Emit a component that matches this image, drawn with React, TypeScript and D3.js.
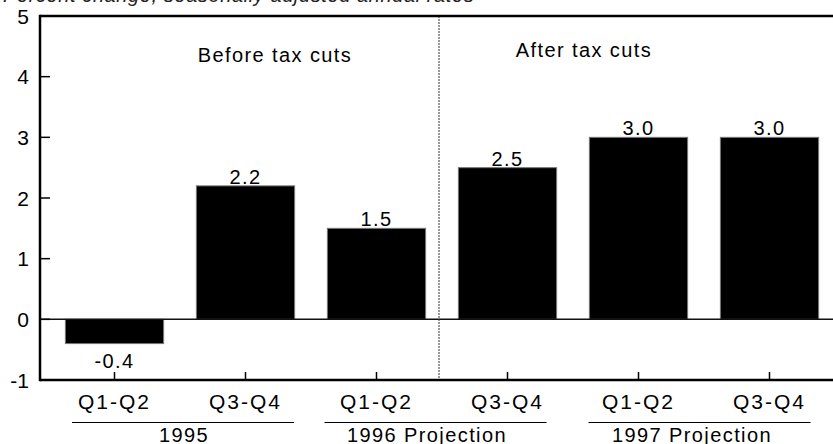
import React from "react";
import * as d3 from "d3";

const quarters = ["Q1-Q2", "Q3-Q4", "Q1-Q2", "Q3-Q4", "Q1-Q2", "Q3-Q4"];
const years = ["1995", "1995", "1996 Projection", "1996 Projection", "1997 Projection", "1997 Projection"];
const values = [-0.4, 2.2, 1.5, 2.5, 3.0, 3.0];
const valueLabels = ["-0.4", "2.2", "1.5", "2.5", "3.0", "3.0"];
const yTicks = [-1, 0, 1, 2, 3, 4, 5];
const groups = ["1995", "1996 Projection", "1997 Projection"];
const title = "Percent change, seasonally adjusted annual rates";
const periodLabels = ["Before tax cuts", "After tax cuts"];

// layout nudges (pixels) for the group captions
const groupLineShift = [3, -6.5, -4.5];
const groupTextShift = [4, -15, -12];

const W = 833;
const H = 444;
const FONT = "'Liberation Sans', Arial, Helvetica, sans-serif";

export default function App() {
  const keys = quarters.map((q, i) => years[i] + " " + q);
  const x = d3.scaleBand<string>().domain(keys).range([49, 835]).paddingInner(0.25).paddingOuter(0.125);
  const y = d3.scaleLinear().domain([-1, 5]).range([380, 16]);
  const bw = x.bandwidth();
  const left = 40;
  const right = 840;
  const divX = (x(keys[2])! + bw + x(keys[3])!) / 2 - 3;

  return (
    <svg width={W} height={H} style={{ position: "fixed", left: 0, top: 0, background: "#fff" }} fontFamily={FONT}>
      <rect x={0} y={0} width={W} height={H} fill="#fff" />
      {/* cut-off title */}
      <text x={3} y={2} fontSize={20} fontStyle="italic" letterSpacing={0.6} fill="#222">{title}</text>

      {/* bars */}
      {values.map((v, i) => (
        <rect key={i} x={x(keys[i])} y={y(Math.max(0, v))} width={bw} height={Math.abs(y(v) - y(0))} fill="#000" stroke="#777" strokeWidth={1} />
      ))}

      {/* zero line */}
      <line x1={left} x2={right} y1={y(0)} y2={y(0)} stroke="#111" strokeWidth={1.5} />

      {/* divider */}
      <line x1={divX} x2={divX} y1={y(5)} y2={y(-1)} stroke="#333" strokeWidth={1} strokeDasharray="2,1" />

      {/* frame */}
      <line x1={left} x2={right} y1={y(5)} y2={y(5)} stroke="#000" strokeWidth={2.5} />
      <line x1={left} x2={right} y1={y(-1)} y2={y(-1)} stroke="#000" strokeWidth={2.5} />
      <line x1={left} x2={left} y1={y(5) - 1.2} y2={y(-1) + 1.2} stroke="#000" strokeWidth={2.5} />

      {/* y ticks */}
      {yTicks.map((t) => (
        <g key={t}>
          <line x1={left} x2={left + 10} y1={y(t)} y2={y(t)} stroke="#000" strokeWidth={1.5} />
          <text x={29} y={y(t)} dy="0.36em" textAnchor="end" fontSize={21} fill="#000">{t}</text>
        </g>
      ))}

      {/* x ticks & quarter labels */}
      {keys.map((k, i) => {
        const cx = x(k)! + bw / 2;
        return (
          <g key={k}>
            <line x1={cx} x2={cx} y1={y(-1)} y2={y(-1) - 8} stroke="#000" strokeWidth={1.5} />
            <text x={cx} y={409} textAnchor="middle" fontSize={21} letterSpacing={2} fill="#000">{quarters[i]}</text>
          </g>
        );
      })}

      {/* group labels */}
      {groups.map((g, gi) => {
        const k0 = keys[gi * 2];
        const k1 = keys[gi * 2 + 1];
        const cx = (x(k0)! + x(k1)! + bw) / 2;
        const lc = cx + groupLineShift[gi];
        return (
          <g key={g}>
            <line x1={lc - 111} x2={lc + 111} y1={422.5} y2={422.5} stroke="#000" strokeWidth={1.2} />
            <text x={cx + groupTextShift[gi]} y={441.5} textAnchor="middle" fontSize={20} letterSpacing={1.4} fill="#000">{g}</text>
          </g>
        );
      })}

      {/* value labels */}
      {values.map((v, i) => {
        const cx = x(keys[i])! + bw / 2;
        return (
          <text key={i} x={cx} y={v >= 0 ? y(v) - 2 : y(v) + 24} textAnchor="middle" fontSize={20} letterSpacing={1.4} fill="#000">
            {valueLabels[i]}
          </text>
        );
      })}

      {/* period annotations */}
      <text x={275} y={62} textAnchor="middle" fontSize={20} letterSpacing={1.4} fill="#000">{periodLabels[0]}</text>
      <text x={584} y={57} textAnchor="middle" fontSize={20} letterSpacing={1.4} fill="#000">{periodLabels[1]}</text>
    </svg>
  );
}
